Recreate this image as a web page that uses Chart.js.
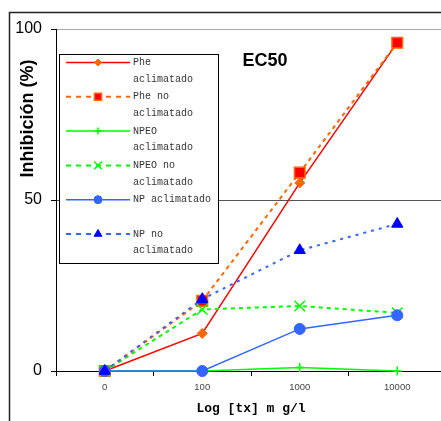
<!DOCTYPE html>
<html><head><meta charset="utf-8">
<script src="https://cdn.jsdelivr.net/npm/chart.js@4.4.1/dist/chart.umd.min.js"></script>
<style>
html,body{margin:0;padding:0;overflow:hidden;background:#fff;width:441px;height:421px}
#wrap{position:absolute;left:0;top:0;width:446px;height:421px}
</style>
</head><body><div id="wrap"><canvas id="c" width="446" height="421"></canvas></div>
<script>
const categories = ['0', '100', '1000', '10000'];
const pheAclimatado = [0, 11, 55, 96];
const pheNoAclimatado = [0, 20.5, 58, 96];
const npeoAclimatado = [0, 0, 1, 0];
const npeoNoAclimatado = [0, 18, 19, 17];
const npAclimatado = [0, 0, 12.3, 16.3];
const npNoAclimatado = [0, 21, 35.3, 43];
const yTicks = [0, 50, 100];
const legendLines = [
  ['Phe', 'aclimatado'],
  ['Phe no', 'aclimatado'],
  ['NPEO', 'aclimatado'],
  ['NPEO no', 'aclimatado'],
  ['NP aclimatado'],
  ['NP no', 'aclimatado']
];
const chartTitle = 'EC50';
const yTitle = 'Inhibición (%)';
const xTitle = 'Log [tx] m g/l';

const base = { fill: false, tension: 0, clip: false };
const datasets = [
  Object.assign({}, base, { label: 'Phe aclimatado', data: pheAclimatado, borderColor: '#FF0000', borderWidth: 1.5,
    pointStyle: 'rectRot', pointRadius: 5, pointBackgroundColor: '#FF6600', pointBorderColor: '#FF6600', pointBorderWidth: 1,
    legendRadius: 3.5, order: 6 }),
  Object.assign({}, base, { label: 'Phe no aclimatado', data: pheNoAclimatado, borderColor: '#FF6600', borderWidth: 2, borderDash: [4, 4],
    pointStyle: 'rect', pointRadius: 7.5, pointBackgroundColor: '#FF0000', pointBorderColor: '#FF6600', pointBorderWidth: 1.5,
    legendRadius: 5, order: 5 }),
  Object.assign({}, base, { label: 'NPEO aclimatado', data: npeoAclimatado, borderColor: '#00FF00', borderWidth: 1.5,
    pointStyle: 'cross', pointRadius: 4.5, pointBackgroundColor: '#00FF00', pointBorderColor: '#00FF00', pointBorderWidth: 1.5,
    legendRadius: 3.5, order: 4 }),
  Object.assign({}, base, { label: 'NPEO no aclimatado', data: npeoNoAclimatado, borderColor: '#00FF00', borderWidth: 2, borderDash: [4, 4],
    pointStyle: 'crossRot', pointRadius: 7.5, pointBackgroundColor: '#00FF00', pointBorderColor: '#00FF00', pointBorderWidth: 1.5,
    legendRadius: 5.5, order: 3 }),
  Object.assign({}, base, { label: 'NP aclimatado', data: npAclimatado, borderColor: '#3366FF', borderWidth: 1.5,
    pointStyle: 'circle', pointRadius: 5.5, pointBackgroundColor: '#3366FF', pointBorderColor: '#3366FF', pointBorderWidth: 1,
    legendRadius: 4, order: 2 }),
  Object.assign({}, base, { label: 'NP no aclimatado', data: npNoAclimatado, borderColor: '#3366FF', borderWidth: 2, borderDash: [3, 5],
    pointStyle: 'triangle', pointRadius: 6.5, pointBackgroundColor: '#0000FF', pointBorderColor: '#0000FF', pointBorderWidth: 1,
    legendRadius: 4.5, order: 1 })
];

const decor = {
  id: 'decor',
  afterDraw(chart) {
    const ctx = chart.ctx;
    ctx.save();
    // outer frame
    ctx.strokeStyle = '#222';
    ctx.lineWidth = 1.5;
    ctx.strokeRect(9.5, 12.5, 460, 440);
    // title
    ctx.fillStyle = '#000';
    ctx.font = 'bold 18px "Liberation Sans", Arial, sans-serif';
    ctx.textAlign = 'center';
    ctx.textBaseline = 'alphabetic';
    ctx.fillText(chartTitle, 265, 65.5);
    // y title
    ctx.save();
    ctx.translate(28, 118.5);
    ctx.rotate(-Math.PI / 2);
    ctx.font = 'bold 18px "Liberation Sans", Arial, sans-serif';
    ctx.textBaseline = 'middle';
    ctx.fillText(yTitle, 0, 0);
    ctx.restore();
    // legend box
    const bx = 59.5, by = 54.5, bw = 159, bh = 209;
    ctx.fillStyle = '#fff';
    ctx.fillRect(bx, by, bw, bh);
    ctx.strokeStyle = '#000';
    ctx.lineWidth = 1;
    ctx.strokeRect(bx, by, bw, bh);
    chart.data.datasets.forEach((ds, i) => {
      const y = by + 8 + i * 34.3;
      ctx.strokeStyle = ds.borderColor;
      ctx.lineWidth = ds.borderWidth;
      ctx.setLineDash(ds.borderDash ? [5, 5] : []);
      ctx.beginPath();
      ctx.moveTo(66, y);
      ctx.lineTo(130, y);
      ctx.stroke();
      ctx.setLineDash([]);
      ctx.fillStyle = ds.pointBackgroundColor;
      ctx.strokeStyle = ds.pointBorderColor;
      ctx.lineWidth = ds.pointBorderWidth;
      Chart.helpers.drawPoint(ctx, { pointStyle: ds.pointStyle, radius: ds.legendRadius, borderWidth: ds.pointBorderWidth, rotation: 0 }, 98, y);
      ctx.fillStyle = '#333';
      ctx.font = '10px "Liberation Mono", "DejaVu Sans Mono", monospace';
      ctx.textAlign = 'left';
      ctx.textBaseline = 'middle';
      legendLines[i].forEach((t, k) => ctx.fillText(t, 133, y + k * 16.5));
    });
    ctx.restore();
  }
};

new Chart(document.getElementById('c'), {
  type: 'line',
  data: { labels: categories, datasets: datasets },
  options: {
    responsive: false,
    animation: false,
    layout: { autoPadding: false, padding: { left: 0, top: 29, right: 0, bottom: 0 } },
    plugins: { legend: { display: false }, tooltip: { enabled: false }, title: { display: false } },
    scales: {
      x: {
        type: 'category',
        offset: true,
        grid: { offset: true, drawOnChartArea: false, drawTicks: true, tickLength: 5, tickColor: '#000' },
        border: { color: '#000', width: 1 },
        ticks: { color: '#444', font: { family: '"Liberation Sans", Arial, sans-serif', size: 9.5 }, padding: 6, maxRotation: 0, autoSkip: false },
        title: { display: true, text: xTitle, color: '#000',
          font: { family: '"Liberation Mono", "Courier New", monospace', size: 13, weight: 'bold' }, padding: { top: 0, bottom: 4 } },
        afterFit(s) { s.height = 50; }
      },
      y: {
        min: 0, max: 100,
        afterBuildTicks(s) { s.ticks = yTicks.map(v => ({ value: v })); },
        grid: {
          color: c => (c.tick && c.tick.value === 50) ? '#555' : (c.tick && c.tick.value === 100) ? '#aaa' : 'rgba(0,0,0,0)',
          tickColor: '#000', tickLength: 5, lineWidth: 1
        },
        border: { color: '#000', width: 1 },
        ticks: { color: '#000', font: { family: '"Liberation Sans", Arial, sans-serif', size: 16 }, padding: 9 },
        afterFit(s) { s.width = 56; }
      }
    }
  },
  plugins: [decor]
});
</script>
</body></html>
